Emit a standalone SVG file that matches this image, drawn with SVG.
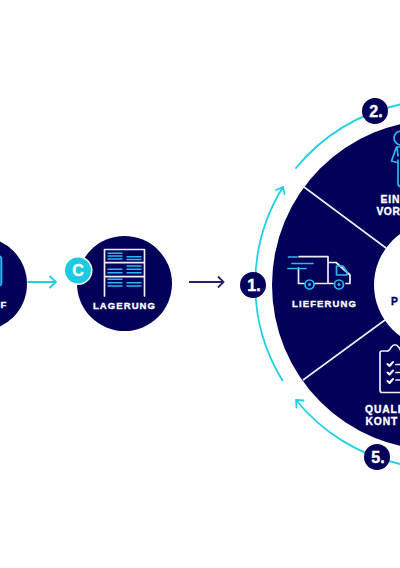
<svg xmlns="http://www.w3.org/2000/svg" width="400" height="568" viewBox="0 0 400 568">
<style>
.d{fill:#03005a}
.t{font-family:"Liberation Sans",Arial,sans-serif;font-weight:700;fill:#fff;stroke:#fff;stroke-width:.35;font-size:9.500px;letter-spacing:1.100px}
.e{font-size:10.300px;letter-spacing:.9px}
.m{text-anchor:middle}
.n{font-family:"Liberation Sans",Arial,sans-serif;font-weight:700;fill:#fff;stroke:#fff;stroke-width:.4;font-size:16px;text-anchor:middle}
.w{fill:none;stroke:#eeeefa;stroke-width:1.700;stroke-linejoin:round;stroke-linecap:round}
.b{fill:none;stroke:#2cb8ee;stroke-width:1.700;stroke-linecap:round;stroke-linejoin:round}
.c{fill:none;stroke:#1fd0e6;stroke-width:1.800;stroke-linecap:round;stroke-linejoin:round}
</style>
<rect width="400" height="568" fill="#fff"/>
<g id="connectors">
<path class="c" d="M282.500 380.500A184 184 0 0 1 283 187M276 190L283 187L284.500 194"/>
<path class="c" d="M296 168A184 184 0 0 1 400 104.500"/>
<path class="c" d="M400 464A184 184 0 0 1 296 400M296.500 407.500L296 400L303.500 400.500"/>
<path class="c" d="M28 282H56M50 276.500L56 282L50 287.500"/>
<path d="M189 282H223M218 276.500L223.500 282L218 287.500" fill="none" stroke="#28206e" stroke-width="1.800"/>
</g>
<g id="node-einkauf">
<circle class="d" cx="-20" cy="284" r="47"/>
<rect x="-30" y="256" width="31.500" height="30" rx="3" fill="#0f6fa8" stroke="#2cb8ee" stroke-width="1.700"/>
<text class="t" x="0.500" y="308">F</text>
</g>
<g id="node-lagerung">
<circle class="d" cx="124.500" cy="283.500" r="47.500"/>
<path class="w" d="M104.500 296V249.500H144.500V296M104.500 262.700H144.500M104.500 276.700H144.500"/>
<path class="b" style="stroke-width:1.500" d="M108 253.300H122M108 256H122M108 259H122M127 256.700H141M127 259.500H141M108 269.300H122M108 272.700H122M127 266H141M127 269.300H141M127 272.700H141M108 279.300H122M108 282.700H122M108 286H122M127 282.700H141M127 286H141"/>
<text class="t m" x="124.500" y="308.500">LAGERUNG</text>
</g>
<g id="node-c">
<circle cx="78" cy="270.500" r="14.500" fill="#fff"/>
<circle cx="78" cy="270.500" r="13" fill="#1ccbe2"/>
<text class="n" x="78" y="276" style="font-size:16px">C</text>
</g>
<g id="wheel">
<circle class="d" cx="437" cy="285" r="165"/>
<path d="M304 187L386 248M303 380L385 320" stroke="#eeeefa" stroke-width="1.600" fill="none"/>
<circle cx="437" cy="285" r="63" fill="#fff"/>
<text class="t e" x="391" y="305" style="fill:#03005a;stroke:#03005a">P</text>
</g>
<g id="node-lieferung">
<path class="w" d="M299 256.700H328V283.500H315M304 283.500H298.500V268M328 262.500H336L350 275V283.500H346M333 283.500H328"/>
<path class="b" d="M336.500 266H343L347 272V275H336.500ZM288.500 257H291M292.500 257H297M292 263.500H313M288 268.500H306"/>
<circle class="b" cx="309.500" cy="284.500" r="4.500"/><circle cx="309.500" cy="284.500" r="1.500" fill="#2cb8ee"/>
<circle class="b" cx="339" cy="284.500" r="4.500"/><circle cx="339" cy="284.500" r="1.500" fill="#2cb8ee"/>
<text class="t m" x="324.500" y="306.500">LIEFERUNG</text>
</g>
<g id="node-einstellung">
<circle class="b" cx="401" cy="138" r="7"/>
<path class="b" d="M391.500 161L396.500 147H401M391.500 161L397 162.500M397 147L398 156"/>
<path class="b" d="M398 160V183Q398 187 402 187"/>
<text class="t e" x="380.500" y="203">EIN</text>
<text class="t e" x="376.500" y="215" style="letter-spacing:.5px">VOR</text>
</g>
<g id="node-qualitaet">
<path class="w" d="M388 351H382Q380 351 380 353V390Q380 392.500 382 392.500H400M388 351Q390 350 391 347.500Q395 342 399 347.500Q400 350 402 351"/>
<path fill="none" stroke="#fff" stroke-width="2" stroke-linecap="round" stroke-linejoin="round" d="M387.500 364L389.500 366L393 362M387.500 372.500L389.500 374.500L393 370.500M387.500 381L389.500 383L393 379"/>
<path class="w" d="M396 364.500H400M396 372.500H400M396 380H400"/>
<text class="t e" x="365" y="413">QUALI</text>
<text class="t e" x="365.500" y="425">KONT</text>
</g>
<g id="node-1"><circle class="d" cx="253" cy="285" r="13"/><text class="n" x="254" y="291">1.</text></g>
<g id="node-2"><circle class="d" cx="375" cy="111" r="13"/><text class="n" x="376" y="117">2.</text></g>
<g id="node-5"><circle class="d" cx="377" cy="457" r="13"/><text class="n" x="378" y="463">5.</text></g>
</svg>
